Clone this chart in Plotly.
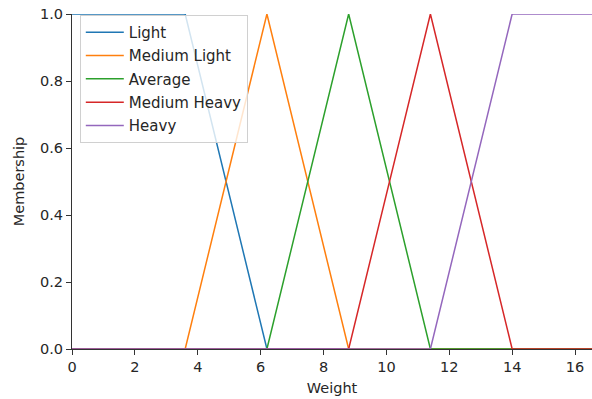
import plotly.graph_objects as go

names = ["Light", "Medium Light", "Average", "Medium Heavy", "Heavy"]
colors = ["#1f77b4", "#ff7f0e", "#2ca02c", "#d62728", "#9467bd"]
x_light = [0, 3.6, 6.2, 16.6]
y_light = [1, 1, 0, 0]
x_mlight = [0, 3.6, 6.2, 8.8, 16.6]
y_mlight = [0, 0, 1, 0, 0]
x_avg = [0, 6.2, 8.8, 11.4, 16.6]
y_avg = [0, 0, 1, 0, 0]
x_mheavy = [0, 8.8, 11.4, 14.0, 16.6]
y_mheavy = [0, 0, 1, 0, 0]
x_heavy = [0, 11.4, 14.0, 16.6]
y_heavy = [0, 0, 1, 1]

xs = [x_light, x_mlight, x_avg, x_mheavy, x_heavy]
ys = [y_light, y_mlight, y_avg, y_mheavy, y_heavy]

fig = go.Figure()
for i, (n, c, x, y) in enumerate(zip(names, colors, xs, ys)):
    fig.add_trace(go.Scatter(x=x, y=y, mode="lines", name=n, legendgroup=f"g{i}",
                             line=dict(color=c, width=1.5)))

font = dict(family="DejaVu Sans", size=14, color="#262626")
fig.update_layout(
    width=592, height=399,
    margin=dict(l=72, r=0, t=14, b=50),
    plot_bgcolor="white", paper_bgcolor="white",
    font=font,
    showlegend=True,
    legend=dict(x=0.015, y=0.997, xanchor="left", yanchor="top",
                bgcolor="rgba(255,255,255,0.8)", bordercolor="#d0d0d0",
                borderwidth=1, font=dict(family="DejaVu Sans", size=15, color="#262626"),
                tracegroupgap=0.8, itemwidth=38),
    xaxis=dict(range=[0, 16.54], tickmode="array", tickvals=[0, 2, 4, 6, 8, 10, 12, 14, 16],
               showgrid=False, zeroline=False, showline=True, linecolor="#333333",
               linewidth=1, ticks="outside", ticklen=5, tickcolor="#333333",
               tickfont=dict(size=14.5),
               title=dict(text="Weight", standoff=8, font=dict(size=14.5)), fixedrange=True),
    yaxis=dict(range=[0, 1.0], tickmode="array", tickvals=[0, 0.2, 0.4, 0.6, 0.8, 1.0],
               tickformat=".1f", showgrid=False, zeroline=False, showline=True,
               linecolor="#333333", linewidth=1, ticks="outside", ticklen=5,
               tickcolor="#333333", tickfont=dict(size=14.5),
               title=dict(text="Membership", standoff=11, font=dict(size=14.5))),
)
fig.write_html("out.html")
